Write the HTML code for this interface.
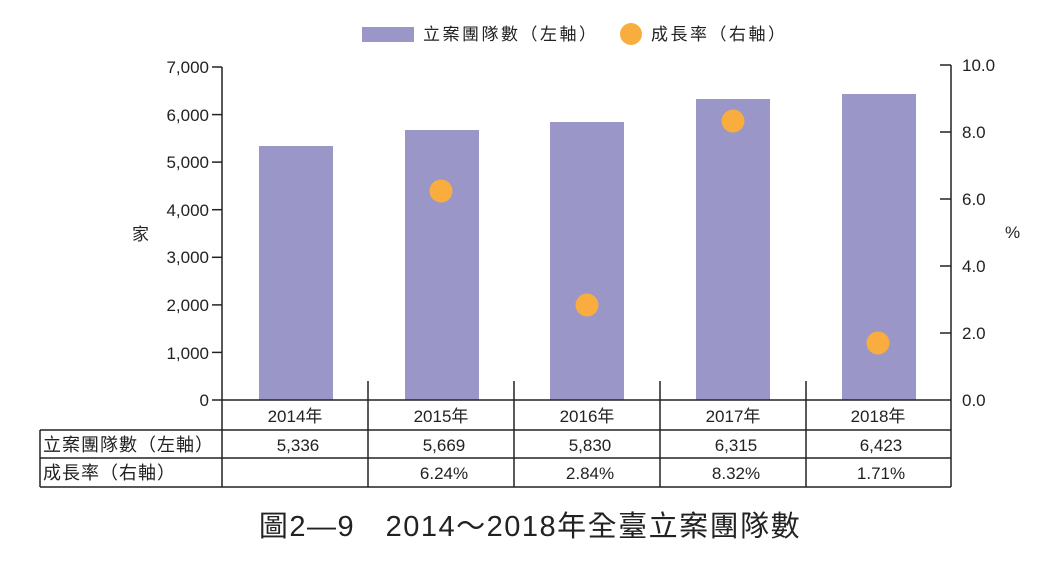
<!DOCTYPE html>
<html><head><meta charset="utf-8"><style>
body{margin:0;background:#fff}
text{font-family:"Liberation Sans","Noto Sans CJK TC",sans-serif;fill:#222}
</style></head><body>
<svg width="1044" height="561" viewBox="0 0 1044 561" xmlns="http://www.w3.org/2000/svg">
<rect width="1044" height="561" fill="#fff"/>
<!-- legend -->
<rect x="362" y="27" width="52" height="15" fill="#9a96c8"/>
<text x="423" y="40" font-size="17" letter-spacing="2.5">立案團隊數（左軸）</text>
<circle cx="631" cy="34" r="11" fill="#f9ad3e"/>
<text x="651" y="40" font-size="17" letter-spacing="2.5">成長率（右軸）</text>
<!-- bars -->
<g fill="#9a96c8">
<rect x="259" y="146" width="74" height="254"/>
<rect x="405" y="130" width="74" height="270"/>
<rect x="550" y="122" width="74" height="278"/>
<rect x="696" y="99" width="74" height="301"/>
<rect x="842" y="94" width="74" height="306"/>
</g>
<g fill="#f9ad3e">
<circle cx="441" cy="191" r="11.5"/>
<circle cx="587" cy="305" r="11.5"/>
<circle cx="733" cy="121" r="11.5"/>
<circle cx="878" cy="343" r="11.5"/>
</g>
<!-- axes -->
<g stroke="#222" stroke-width="1.5" fill="none">
<line x1="222" y1="67" x2="222" y2="487"/>
<line x1="951" y1="65" x2="951" y2="487"/>
<line x1="212" y1="67" x2="222" y2="67"/>
<line x1="212" y1="114.6" x2="222" y2="114.6"/>
<line x1="212" y1="162.1" x2="222" y2="162.1"/>
<line x1="212" y1="209.7" x2="222" y2="209.7"/>
<line x1="212" y1="257.3" x2="222" y2="257.3"/>
<line x1="212" y1="304.9" x2="222" y2="304.9"/>
<line x1="212" y1="352.4" x2="222" y2="352.4"/>
<line x1="212" y1="400" x2="222" y2="400"/>
<line x1="940" y1="65" x2="951" y2="65"/>
<line x1="940" y1="132" x2="951" y2="132"/>
<line x1="940" y1="199" x2="951" y2="199"/>
<line x1="940" y1="266" x2="951" y2="266"/>
<line x1="940" y1="333" x2="951" y2="333"/>
<line x1="222" y1="400" x2="951" y2="400"/>
<line x1="368" y1="381" x2="368" y2="487"/>
<line x1="514" y1="381" x2="514" y2="487"/>
<line x1="660" y1="381" x2="660" y2="487"/>
<line x1="806" y1="381" x2="806" y2="487"/>
<line x1="40" y1="430" x2="951" y2="430"/>
<line x1="40" y1="458" x2="951" y2="458"/>
<line x1="40" y1="487" x2="951" y2="487"/>
<line x1="40" y1="430" x2="40" y2="487"/>
</g>
<!-- left ticks -->
<g font-size="17" text-anchor="end">
<text x="209" y="73">7,000</text>
<text x="209" y="121">6,000</text>
<text x="209" y="168">5,000</text>
<text x="209" y="216">4,000</text>
<text x="209" y="263">3,000</text>
<text x="209" y="311">2,000</text>
<text x="209" y="359">1,000</text>
<text x="209" y="406">0</text>
</g>
<g font-size="17">
<text x="962" y="71">10.0</text>
<text x="962" y="138">8.0</text>
<text x="962" y="205">6.0</text>
<text x="962" y="272">4.0</text>
<text x="962" y="339">2.0</text>
<text x="962" y="406">0.0</text>
</g>
<text x="132" y="240" font-size="17">家</text>
<text x="1005" y="238" font-size="17">%</text>
<!-- table -->
<g font-size="17" text-anchor="middle">
<text x="295" y="422">2014年</text>
<text x="441" y="422">2015年</text>
<text x="587" y="422">2016年</text>
<text x="733" y="422">2017年</text>
<text x="878" y="422">2018年</text>
<text x="298" y="451">5,336</text>
<text x="444" y="451">5,669</text>
<text x="590" y="451">5,830</text>
<text x="736" y="451">6,315</text>
<text x="881" y="451">6,423</text>
<text x="444" y="479">6.24%</text>
<text x="590" y="479">2.84%</text>
<text x="736" y="479">8.32%</text>
<text x="881" y="479">1.71%</text>
</g>
<text x="43" y="451" font-size="18" letter-spacing="1">立案團隊數（左軸）</text>
<text x="43" y="479" font-size="18" letter-spacing="1">成長率（右軸）</text>
<text x="530" y="536" font-size="29" text-anchor="middle" letter-spacing="1.5">圖2—9　2014～2018年全臺立案團隊數</text>
</svg>
</body></html>
